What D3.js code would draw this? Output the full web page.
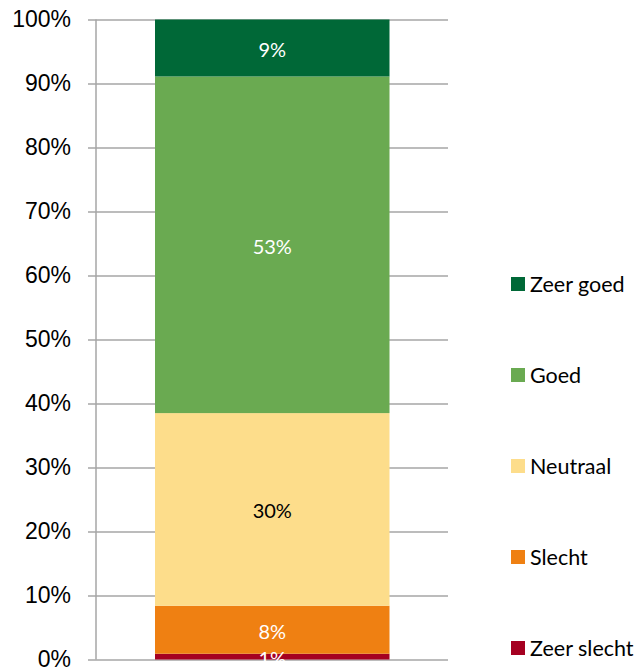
<!DOCTYPE html>
<html lang="nl">
<head>
<meta charset="UTF-8">
<title>Stacked bar</title>
<style>
    body, html { margin: 0; padding: 0; background: #fff; }
    svg { display: block; font-family: Lato, "Open Sans", sans-serif; }
    .grid line { stroke: #a6a6a6; stroke-width: 1.5px; }
    .grid path { display: none; }
    .grid text { font-size: 23px; fill: #000; }
    .seg-label { font-size: 20px; text-anchor: middle; dominant-baseline: central; }
    .legend text { font-size: 21.5px; fill: #000; dominant-baseline: central; }
</style>
</head>
<body>
<div id="chart"></div>
<script src="https://cdn.jsdelivr.net/npm/d3@7"></script>
<script>
    // categories bottom to top
    const categories = ["Zeer slecht", "Slecht", "Neutraal", "Goed", "Zeer goed"];
    const values = [0.9, 7.5, 30.1, 52.6, 8.9];
    const labels = ["1%", "8%", "30%", "53%", "9%"];
    const colors = ["#a50021", "#ef8012", "#fddd8b", "#6aaa51", "#006837"];
    const labelColors = ["#fff", "#fff", "#000", "#fff", "#fff"];
    const tickValues = [0, 10, 20, 30, 40, 50, 60, 70, 80, 90, 100];

    const width = 639, height = 667;

    const svg = d3.select("#chart").append("svg")
        .attr("width", width)
        .attr("height", height);

    const y = d3.scaleLinear().domain([0, 100]).range([659.5, 19.5]);

    // gridlines + tick labels
    svg.append("g")
        .attr("class", "grid")
        .attr("transform", "translate(88,0)")
        .call(d3.axisLeft(y)
            .tickValues(tickValues)
            .tickSize(-360)
            .tickPadding(17)
            .tickFormat(d => d + "%"));

    // vertical axis line
    svg.append("line")
        .attr("x1", 96).attr("x2", 96)
        .attr("y1", y(100)).attr("y2", y(0))
        .attr("stroke", "#a6a6a6")
        .attr("stroke-width", 1.5);

    // stack
    const stacked = [];
    let acc = 0;
    values.forEach((v, i) => {
        stacked.push({ cat: categories[i], y0: acc, y1: acc + v, i: i });
        acc += v;
    });

    const barX = 155, barW = 234.5;

    svg.append("g").selectAll("rect")
        .data(stacked)
        .join("rect")
        .attr("x", barX)
        .attr("width", barW)
        .attr("y", d => y(d.y1))
        .attr("height", d => y(d.y0) - y(d.y1))
        .attr("fill", d => colors[d.i]);

    svg.append("g").selectAll("text")
        .data(stacked)
        .join("text")
        .attr("class", "seg-label")
        .attr("x", barX + barW / 2)
        .attr("y", d => (y(d.y0) + y(d.y1)) / 2 + 1)
        .attr("fill", d => labelColors[d.i])
        .text(d => labels[d.i]);

    // legend, top to bottom
    const legendItems = categories.slice().reverse();
    const legendColors = colors.slice().reverse();
    const lg = svg.append("g").attr("class", "legend");
    legendItems.forEach((c, i) => {
        const cy = 284 + i * 91;
        lg.append("rect")
            .attr("x", 511).attr("y", cy - 7)
            .attr("width", 14).attr("height", 14)
            .attr("fill", legendColors[i]);
        lg.append("text")
            .attr("x", 530).attr("y", cy)
            .text(c);
    });
</script>
</body>
</html>
